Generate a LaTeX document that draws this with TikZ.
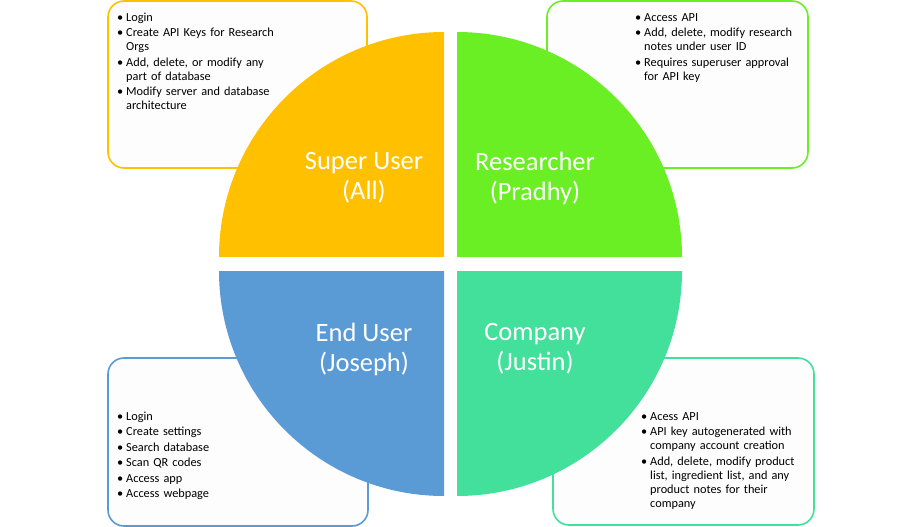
\documentclass[tikz,border=0pt]{standalone}
\usepackage{fontspec}
\setmainfont{Carlito}
\usepackage{enumitem}
\usetikzlibrary{positioning}
\definecolor{superorange}{HTML}{FFC000}
\definecolor{researchgreen}{HTML}{6AEE24}
\definecolor{enduserblue}{HTML}{5B9BD5}
\definecolor{companyteal}{HTML}{42E09B}
\definecolor{boxfill}{HTML}{FDFDFD}
\setlist[itemize]{label=\textbullet, leftmargin=8pt, labelsep=3pt, topsep=0pt, partopsep=0pt, parsep=0pt, itemsep=1.5pt}
\tikzset{
  rolebox/.style={draw=#1, fill=boxfill, line width=1.6pt, rounded corners=16pt, inner sep=0pt},
  rolelist/.style={anchor=north west, inner sep=0pt, text width=200pt, align=left,
    font=\fontsize{12.3}{14}\selectfont},
  roletitle/.style={text=white, align=center, font=\fontsize{26.5}{30}\selectfont}
}

\begin{document}
\begin{tikzpicture}[x=1pt, y=1pt]
    \useasboundingbox (0,0) rectangle (900,-527);
    % boxes behind the quarters
    \node[rolebox=superorange, minimum width=259pt, minimum height=167pt] (superbox) at (237.5,-84.5) {};
    \node[rolebox=researchgreen, minimum width=261pt, minimum height=167pt] (researchbox) at (677.5,-84.5) {};
    \node[rolebox=enduserblue, minimum width=260pt, minimum height=168pt] (enduserbox) at (238,-442) {};
    \node[rolebox=companyteal, minimum width=261pt, minimum height=167pt] (companybox) at (683.5,-441.5) {};
    % four quarters of the circle
    \foreach \cx/\cy/\sa/\col in {%
      444/-257/180/superorange,
      457/-257/90/researchgreen,
      444/-271/270/enduserblue,
      457/-271/0/companyteal%
    } {
      \fill[\col] (\cx,\cy) -- ++(\sa:225) arc[start angle=\sa, delta angle=-90, radius=225] -- cycle;
    }
    \node[roletitle] (super) at (364,-178) {Super User\\(All)};
    \node[roletitle] (research) at (535,-178) {Researcher\\(Pradhy)};
    \node[roletitle] (enduser) at (364,-349) {End User\\(Joseph)};
    \node[roletitle] (company) at (535,-349) {Company\\(Justin)};
    % lists
    \node[rolelist] (superlist) at (118,-7) {%
      \begin{itemize}
        \item Login
        \item Create API Keys for Research\newline Orgs
        \item Add, delete, or modify any\newline part of database
        \item Modify server and database\newline architecture
      \end{itemize}};
    \node[rolelist] (researchlist) at (636,-7) {%
      \begin{itemize}
        \item Access API
        \item Add, delete, modify research\newline notes under user ID
        \item Requires superuser approval\newline for API key
      \end{itemize}};
    \node[rolelist] (enduserlist) at (118,-406) {%
      \begin{itemize}
        \item Login
        \item Create settings
        \item Search database
        \item Scan QR codes
        \item Access app
        \item Access webpage
      \end{itemize}};
    \node[rolelist] (companylist) at (642,-406) {%
      \begin{itemize}
        \item Acess API
        \item API key autogenerated with\newline company account creation
        \item Add, delete, modify product\newline list, ingredient list, and any\newline product notes for their\newline company
      \end{itemize}};
\end{tikzpicture}
\end{document}
